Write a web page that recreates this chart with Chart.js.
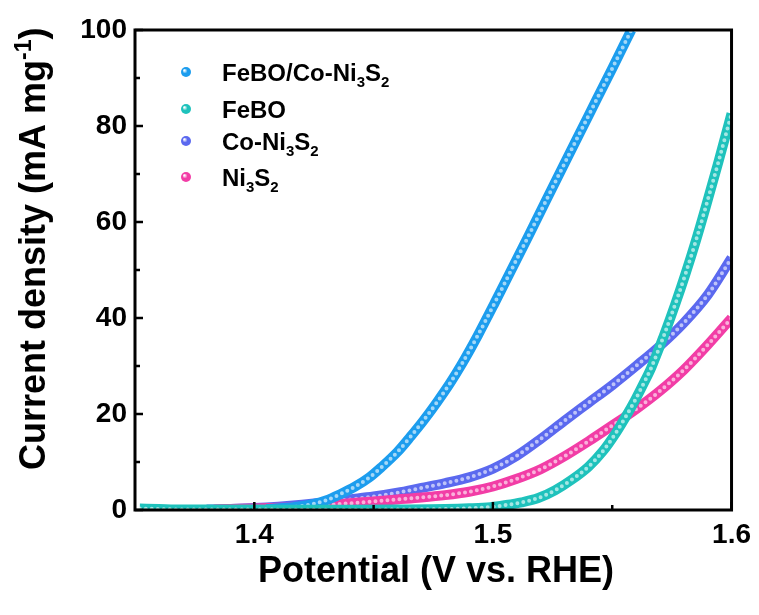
<!DOCTYPE html>
<html>
<head>
<meta charset="utf-8">
<title>LSV curves</title>
<script src="https://cdn.jsdelivr.net/npm/chart.js@4.4.1/dist/chart.umd.min.js"></script>
<style>
    body { margin: 0; background: #fff; }
    #wrap { width: 759px; height: 615px; }
</style>
</head>
<body>
<div id="wrap"><canvas id="lsv-chart"></canvas></div>
<script>
// values: potential (V vs. RHE) / current density (mA mg-1)

const feboCoV = [1.405, 1.412, 1.418, 1.425, 1.43, 1.436, 1.442, 1.448, 1.453, 1.46, 1.4655, 1.471,
    1.4769, 1.482, 1.4866, 1.4937, 1.5008, 1.5076, 1.515, 1.522, 1.53, 1.54, 1.55, 1.558];
const feboCoJ = [0.2, 0.4, 0.7, 1.3, 2.0, 3.3, 4.8, 6.7, 8.8, 12.1, 15.3, 18.7,
    22.7, 26.4, 30.1, 36.4, 43.2, 49.9, 57.2, 64.2, 72.2, 82.1, 92.0, 100];

const feboV = [1.352, 1.36, 1.37, 1.38, 1.39, 1.40, 1.42, 1.44, 1.46, 1.48, 1.49, 1.499, 1.505, 1.512,
    1.519, 1.526, 1.533, 1.54, 1.546, 1.5513, 1.5555, 1.5597, 1.5634, 1.5664, 1.5714, 1.5765,
    1.5807, 1.585, 1.589, 1.5945, 1.5987, 1.6];
const feboJ = [0.3, 0.2, 0.1, 0.1, 0.1, 0.1, 0.05, 0.05, 0.1, 0.2, 0.35, 0.6, 1.0, 1.6,
    2.5, 4.1, 6.3, 9.0, 12.2, 15.9, 19.3, 23.0, 26.6, 29.7, 36.0, 43.0,
    49.2, 56.0, 62.8, 72.5, 80.2, 82.6];

const coNiV = [1.38, 1.39, 1.40, 1.41, 1.42, 1.43, 1.44, 1.45, 1.46, 1.47, 1.48, 1.49, 1.50,
    1.51, 1.52, 1.53, 1.54, 1.55, 1.56, 1.57, 1.58, 1.59, 1.6];
const coNiJ = [0.1, 0.2, 0.4, 0.7, 1.1, 1.6, 2.2, 2.8, 3.6, 4.6, 5.6, 6.8, 8.6,
    11.3, 14.8, 18.6, 22.3, 26.0, 30.0, 34.2, 39.0, 44.8, 52.5];

const niV = [1.383, 1.39, 1.40, 1.41, 1.42, 1.43, 1.44, 1.45, 1.46, 1.47, 1.48, 1.49, 1.50,
    1.51, 1.52, 1.53, 1.54, 1.55, 1.56, 1.57, 1.58, 1.59, 1.6];
const niJ = [0.1, 0.2, 0.3, 0.45, 0.65, 1.0, 1.4, 1.8, 2.2, 2.6, 3.1, 3.8, 4.9,
    6.5, 8.5, 11.2, 14.3, 17.6, 21.0, 24.8, 29.2, 34.4, 40.0];

const xTicks = [1.4, 1.5, 1.6];
const xMinorTicks = [1.45, 1.55];
const yTicks = [0, 20, 40, 60, 80, 100];
const yMinorTicks = [10, 30, 50, 70, 90];

// legend names, [text, isSubscript]
const seriesNames = [
    [['FeBO/Co-Ni', 0], ['3', 1], ['S', 0], ['2', 1]],
    [['FeBO', 0]],
    [['Co-Ni', 0], ['3', 1], ['S', 0], ['2', 1]],
    [['Ni', 0], ['3', 1], ['S', 0], ['2', 1]]
];

const FONT = "'Liberation Sans', Arial, sans-serif";

const series = [
    { v: feboCoV, j: feboCoJ, color: '#1c9dee', rank: 1 },
    { v: feboV, j: feboJ, color: '#1fc2bc', rank: 0 },
    { v: coNiV, j: coNiJ, color: '#5b69ef', rank: 3 },
    { v: niV, j: niJ, color: '#f23da6', rank: 2 }
];

function toPoints(v, j) {
    return v.map((x, i) => ({ x: x, y: j[i] }));
}

let datasets = [];
series.forEach((s) => {
    const pts = toPoints(s.v, s.j);
    // thick band of beads
    datasets.push({
        data: pts,
        showLine: true,
        borderColor: s.color,
        borderWidth: 10,
        pointRadius: 0,
        cubicInterpolationMode: 'monotone',
        order: s.rank * 2 + 1
    });
    // bead highlights
    datasets.push({
        data: pts,
        showLine: true,
        borderColor: 'rgba(255, 255, 255, 0.6)',
        borderWidth: 4,
        borderDash: [0, 6],
        borderCapStyle: 'round',
        pointRadius: 0,
        cubicInterpolationMode: 'monotone',
        order: s.rank * 2
    });
});

function drawBead(ctx, x, y, r, color) {
    const g = ctx.createRadialGradient(x - r * 0.35, y - r * 0.35, r * 0.1, x, y, r);
    g.addColorStop(0, '#ffffff');
    g.addColorStop(0.45, color);
    g.addColorStop(1, color);
    ctx.beginPath();
    ctx.arc(x, y, r, 0, Math.PI * 2);
    ctx.fillStyle = g;
    ctx.fill();
}

// draws text made of normal / sub / sup pieces, returns end x
function drawRich(ctx, parts, x, y, size) {
    parts.forEach(([t, kind]) => {
        const small = kind !== 0;
        ctx.font = 'bold ' + (small ? Math.round(size * 0.64) : size) + 'px ' + FONT;
        const dy = kind === 1 ? size * 0.26 : (kind === 2 ? -size * 0.4 : 0);
        ctx.fillText(t, x, y + dy);
        x += ctx.measureText(t).width;
    });
    return x;
}

const framePlugin = {
    id: 'frame',
    afterDatasetsDraw(chart) {
        const ctx = chart.ctx;
        const a = chart.chartArea;
        const xs = chart.scales.x;
        const ys = chart.scales.y;
        ctx.save();
        ctx.strokeStyle = '#000';
        ctx.lineWidth = 3;
        ctx.strokeRect(a.left, a.top, a.right - a.left, a.bottom - a.top);

        // inward tick marks
        ctx.lineWidth = 2.5;
        ctx.beginPath();
        xTicks.forEach(v => { const p = xs.getPixelForValue(v); ctx.moveTo(p, a.bottom); ctx.lineTo(p, a.bottom - 8); });
        xMinorTicks.forEach(v => { const p = xs.getPixelForValue(v); ctx.moveTo(p, a.bottom); ctx.lineTo(p, a.bottom - 5); });
        yTicks.forEach(v => { const p = ys.getPixelForValue(v); ctx.moveTo(a.left, p); ctx.lineTo(a.left + 8, p); });
        yMinorTicks.forEach(v => { const p = ys.getPixelForValue(v); ctx.moveTo(a.left, p); ctx.lineTo(a.left + 5, p); });
        ctx.stroke();

        ctx.fillStyle = '#000';
        ctx.textBaseline = 'alphabetic';

        // x title
        ctx.font = 'bold 36px ' + FONT;
        ctx.textAlign = 'center';
        ctx.fillText('Potential (V vs. RHE)', 436, 582);

        // y title with superscript
        ctx.textAlign = 'left';
        ctx.translate(45, 470);
        ctx.rotate(-Math.PI / 2);
        drawRich(ctx, [['Current density (mA mg', 0], ['-1', 2], [')', 0]], 0, 0, 36);
        ctx.setTransform(1, 0, 0, 1, 0, 0);

        // legend
        const rows = [72, 109, 141, 177];
        series.forEach((s, i) => {
            drawBead(ctx, 186, rows[i], 5, s.color);
            ctx.fillStyle = '#000';
            drawRich(ctx, seriesNames[i], 222, rows[i] + 9, 24);
        });
        ctx.restore();
    }
};

const tickFont = { family: FONT, size: 28, weight: 'bold' };

new Chart(document.getElementById('lsv-chart'), {
    type: 'scatter',
    data: { datasets: datasets },
    options: {
        responsive: true,
        maintainAspectRatio: false,
        animation: false,
        layout: { padding: { top: 30, right: 26, left: 0, bottom: 0 } },
        plugins: {
            legend: { display: false },
            tooltip: { enabled: false }
        },
        scales: {
            x: {
                type: 'linear',
                min: 1.35,
                max: 1.6,
                afterBuildTicks: (s) => { s.ticks = xTicks.map(v => ({ value: v })); },
                afterFit: (s) => { s.height = 105; },
                ticks: {
                    font: tickFont,
                    color: '#000',
                    padding: 8,
                    maxRotation: 0,
                    autoSkip: false,
                    callback: (v) => v.toFixed(1)
                },
                grid: { display: false, drawTicks: false },
                border: { display: false }
            },
            y: {
                min: 0,
                max: 100,
                afterBuildTicks: (s) => { s.ticks = yTicks.map(v => ({ value: v })); },
                afterFit: (s) => { s.width = 135; },
                ticks: {
                    font: tickFont,
                    color: '#000',
                    padding: 8,
                    callback: (v) => String(v)
                },
                grid: { display: false, drawTicks: false },
                border: { display: false }
            }
        }
    },
    plugins: [framePlugin]
});
</script>
</body>
</html>
